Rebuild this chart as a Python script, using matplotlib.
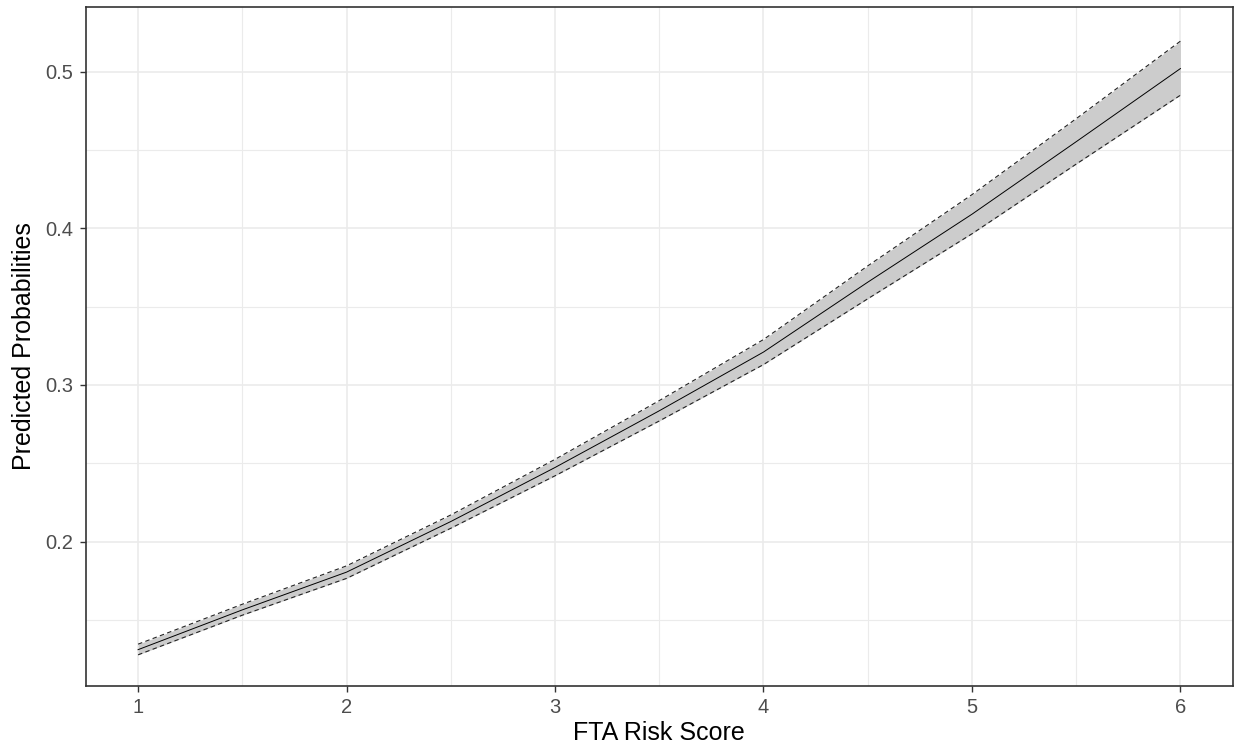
import matplotlib.pyplot as plt
from matplotlib.ticker import MultipleLocator

plt.rcParams['font.family'] = ['Liberation Sans', 'DejaVu Sans']

# values
risk_score = [1, 1.5, 2, 2.5, 3, 3.5, 4, 4.5, 5, 5.5, 6]
pred_prob = [0.131, 0.1564, 0.1805, 0.2128, 0.2473, 0.2835, 0.321, 0.3656, 0.409, 0.4553, 0.502]
upper_ci = [0.1345, 0.160, 0.1845, 0.217, 0.2525, 0.290, 0.329, 0.376, 0.4215, 0.470, 0.5195]
lower_ci = [0.1277, 0.153, 0.1765, 0.2085, 0.242, 0.277, 0.313, 0.355, 0.3965, 0.441, 0.485]
y_ticks = [0.2, 0.3, 0.4, 0.5]

fig = plt.figure(figsize=(12.35, 7.54), dpi=100)
ax = fig.add_axes([0.0696, 0.0906, 0.9284, 0.9001])

#ribbon and lines
ax.fill_between(risk_score, lower_ci, upper_ci, color='#CCCCCC', linewidth=0, zorder=2)
ax.plot(risk_score, upper_ci, color='#222222', linestyle=(0, (4, 3)), linewidth=0.8, zorder=3)
ax.plot(risk_score, lower_ci, color='#222222', linestyle=(0, (4, 3)), linewidth=0.8, zorder=3)
ax.plot(risk_score, pred_prob, color='black', linewidth=0.7, zorder=4)

ax.set_xlim(0.75, 6.25)
ax.set_ylim(0.108, 0.5413)
ax.set_xticks([1, 2, 3, 4, 5, 6])
ax.set_xticklabels(['1', '2', '3', '4', '5', '6'])
ax.set_yticks(y_ticks)
ax.set_yticklabels([str(t) for t in y_ticks])
ax.xaxis.set_minor_locator(MultipleLocator(0.5))
ax.yaxis.set_minor_locator(MultipleLocator(0.05))

#theme_bw look
ax.grid(which='major', color='#EBEBEB', linewidth=1.2, zorder=0)
ax.grid(which='minor', color='#EBEBEB', linewidth=0.8, zorder=0)
ax.set_axisbelow(True)
ax.tick_params(which='major', length=4, width=1, color='#333333', labelcolor='#4D4D4D',
               labelsize=14.5, pad=5)
ax.tick_params(which='minor', length=0)
for s in ax.spines.values():
    s.set_color('#333333')
    s.set_linewidth(1.2)

ax.set_xlabel('FTA Risk Score', fontsize=18, color='black', labelpad=3)
ax.set_ylabel('Predicted Probabilities', fontsize=18, color='black', labelpad=7)

plt.savefig('out.png', dpi=100)
